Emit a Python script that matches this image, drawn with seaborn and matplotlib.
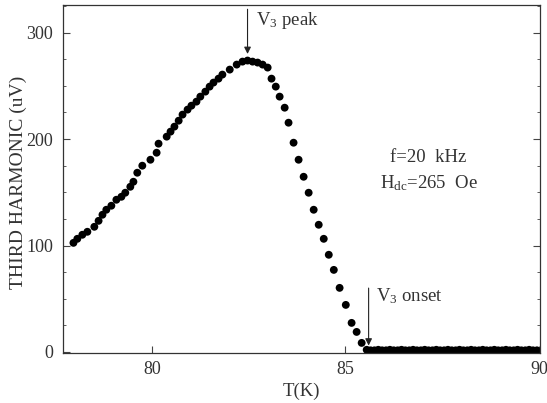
import matplotlib
matplotlib.use("Agg")
import matplotlib.pyplot as plt
import seaborn as sns
import pandas as pd
from matplotlib.ticker import MultipleLocator

# data
temp_rise = [77.97, 78.07, 78.20, 78.33, 78.51, 78.62, 78.72, 78.82, 78.95, 79.08,
             79.21, 79.31, 79.44, 79.52, 79.62, 79.75, 79.96, 80.12, 80.17, 80.38,
             80.48, 80.58, 80.69, 80.79, 80.92, 81.02, 81.15, 81.25, 81.38, 81.49,
             81.59, 81.72, 81.82, 82.01, 82.19, 82.34, 82.47, 82.60, 82.73, 82.86,
             82.99]
v3_rise = [102.5, 106.3, 110.1, 112.9, 117.6, 123.2, 128.9, 133.6, 137.4, 143.0,
           145.8, 149.6, 155.2, 159.9, 168.4, 175.0, 180.6, 187.2, 195.7, 202.3,
           207.0, 211.7, 217.3, 223.0, 227.7, 231.4, 235.2, 239.9, 244.6, 249.3,
           253.1, 256.8, 260.6, 265.3, 270.0, 272.8, 273.8, 272.8, 271.9, 270.0,
           267.2]
temp_fall = [83.09, 83.20, 83.30, 83.43, 83.53, 83.66, 83.79, 83.92, 84.05, 84.18,
             84.31, 84.44, 84.57, 84.70, 84.85, 85.01, 85.16, 85.29, 85.42]
v3_fall = [256.8, 249.3, 239.9, 229.5, 215.4, 196.6, 180.6, 164.6, 149.6, 133.6,
           119.5, 106.3, 91.3, 77.1, 60.2, 44.2, 27.3, 18.8, 8.5]
temp_flat = [85.55, 85.65, 85.75, 85.85, 85.95, 86.05, 86.15, 86.25, 86.35, 86.45,
             86.55, 86.65, 86.75, 86.85, 86.95, 87.05, 87.15, 87.25, 87.35, 87.45,
             87.55, 87.65, 87.75, 87.85, 87.95, 88.05, 88.15, 88.25, 88.35, 88.45,
             88.55, 88.65, 88.75, 88.85, 88.95, 89.05, 89.15, 89.25, 89.35, 89.45,
             89.55, 89.65, 89.75, 89.85, 89.95]
v3_flat = [2.0, 1.5, 1.5, 2.0, 1.5, 1.5, 2.0, 1.5, 1.5, 2.0,
           1.5, 1.5, 2.0, 1.5, 1.5, 2.0, 1.5, 1.5, 2.0, 1.5,
           1.5, 2.0, 1.5, 1.5, 2.0, 1.5, 1.5, 2.0, 1.5, 1.5,
           2.0, 1.5, 1.5, 2.0, 1.5, 1.5, 2.0, 1.5, 1.5, 2.0,
           1.5, 1.5, 2.0, 1.5, 1.5]

x_ticks = [80, 85, 90]
y_ticks = [0, 100, 200, 300]

df = pd.DataFrame({
    "T": temp_rise + temp_fall + temp_flat,
    "V": v3_rise + v3_fall + v3_flat,
})

sns.set_theme(style="ticks")
plt.rcParams["font.family"] = ["Liberation Serif", "DejaVu Serif"]
plt.rcParams["mathtext.fontset"] = "custom"
plt.rcParams["mathtext.rm"] = "Liberation Serif"
plt.rcParams["mathtext.it"] = "Liberation Serif"

fig = plt.figure(figsize=(5.47, 4.03), dpi=100)
ax = fig.add_axes([63 / 547, 1 - 353 / 403, (540 - 63) / 547, (353 - 5) / 403])

sns.scatterplot(data=df, x="T", y="V", ax=ax, color="black", s=32,
                edgecolor="none", linewidth=0, legend=False)

ax.set_xlim(77.7, 90.03)
ax.set_ylim(-1, 326)
ax.set_xticks(x_ticks)
ax.set_yticks(y_ticks)
ax.yaxis.set_minor_locator(MultipleLocator(25))
ax.tick_params(which="both", direction="in", top=True, right=True,
               colors="#444444", labelcolor="#333333", labelsize=13)
ax.tick_params(which="major", length=5, width=0.8, pad=7)
ax.tick_params(which="minor", length=2.5, width=0.6)
ax.tick_params(axis="x", top=False, pad=6)
for sp in ax.spines.values():
    sp.set_visible(True)
    sp.set_color("#333333")
    sp.set_linewidth(0.9)

ax.set_xlabel("T(K)", fontsize=13.5, color="#333333", labelpad=3)
ax.set_ylabel("THIRD HARMONIC (uV)", fontsize=14, color="#333333")
ax.yaxis.set_label_coords(-0.075, 0.49)

ax.annotate("", xy=(82.47, 280), xytext=(82.47, 322),
            arrowprops=dict(arrowstyle="-|>", color="#222222", lw=0.8,
                            mutation_scale=10, shrinkA=0, shrinkB=0))
ax.text(82.7, 311, "V$_3$ peak", fontsize=13.5, color="#333333", va="center")

ax.annotate("", xy=(85.6, 6), xytext=(85.6, 60),
            arrowprops=dict(arrowstyle="-|>", color="#222222", lw=0.8,
                            mutation_scale=10, shrinkA=0, shrinkB=0))
ax.text(85.8, 52, "V$_3$ onset", fontsize=13.5, color="#333333", va="center")

ax.text(87.15, 183, "f=20  kHz", fontsize=13.5, color="#333333",
        ha="center", va="center")
ax.text(87.15, 159, "H$_{\\rm dc}$=265  Oe", fontsize=13.5, color="#333333",
        ha="center", va="center")

fig.savefig("out.png", dpi=100)
